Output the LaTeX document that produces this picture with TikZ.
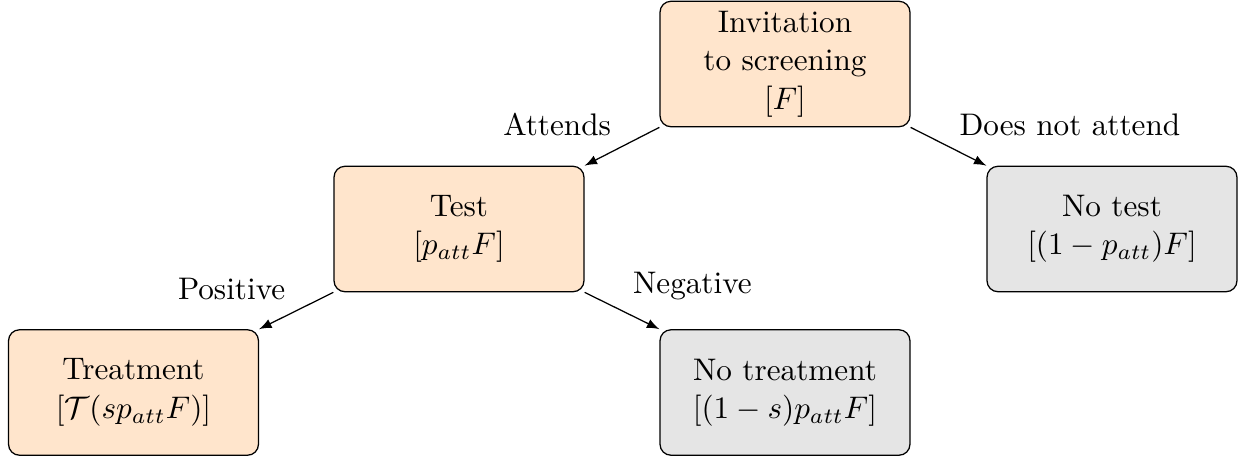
\documentclass[tikz,border=0pt]{standalone}
\usetikzlibrary{arrows}
\begin{document}
\begin{tikzpicture}[x=0.3205pt,y=-0.3205pt,
  box/.style={draw=black, rounded corners=3.5pt, minimum width=80.1pt, minimum height=40.2pt,
    align=center, inner sep=0pt, font=\fontsize{10}{12.3}\selectfont},
  yesbox/.style={box, fill=orange!20},
  nobox/.style={box, fill=gray!20},
  arr/.style={-latex, black},
  lab/.style={font=\fontsize{10}{12}\selectfont}]
\useasboundingbox (0,0) rectangle (1246,459);
\node[yesbox] (inv) at (785,64) {Invitation\\to screening\\$[F]$};
\node[yesbox] (test) at (459,229) {Test\\$[p_{att}F]$};
\node[nobox] (notest) at (1112,229) {No test\\$[(1-p_{att})F]$};
\node[yesbox] (treat) at (133.5,392.5) {Treatment\\$[\mathcal{T}(sp_{att}F)]$};
\node[nobox] (notreat) at (785,392.5) {No treatment\\$[(1-s)p_{att}F]$};
\draw[arr] (inv.south west) -- node[lab, midway, above left] {Attends} (test.north east);
\draw[arr] (inv.south east) -- node[lab, midway, above right] {Does not attend} (notest.north west);
\draw[arr] (test.south west) -- node[lab, midway, above left] {Positive} (treat.north east);
\draw[arr] (test.south east) -- node[lab, midway, above right] {Negative} (notreat.north west);
\end{tikzpicture}
\end{document}
